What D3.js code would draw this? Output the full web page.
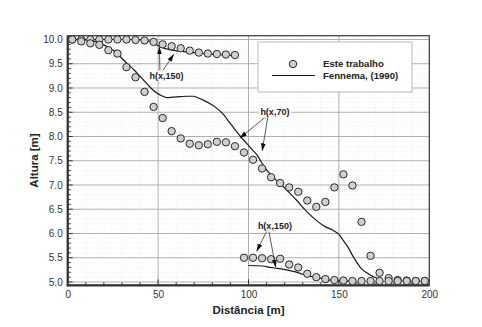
<!DOCTYPE html>
<html><head><meta charset="utf-8">
<script src="https://cdn.jsdelivr.net/npm/d3@7"></script>
<style>body{margin:0;background:#fff}svg{display:block}text{font-family:"Liberation Sans",Arial,sans-serif}</style>
</head><body><svg id="c" width="482" height="327"></svg>
<script>
// ---- data ----
const xTicks = [0, 50, 100, 150, 200];
const yTicks = [5.0, 5.5, 6.0, 6.5, 7.0, 7.5, 8.0, 8.5, 9.0, 9.5, 10.0];
const yTickLabels = ["5.0","5.5","6.0","6.5","7.0","7.5","8.0","8.5","9.0","9.5","10.0"];
// Este trabalho: h(x,150) upper branch
const topX = [2.5,7.5,12.5,17.5,22.5,27.5,32.5,37.5,42.5,47.5,52.5,57.5,62.5,67.5,72.5,77.5,82.5,87.5,92.5];
const topH = [10.00,10.00,10.00,10.00,10.00,10.00,10.00,9.99,9.98,9.95,9.90,9.86,9.82,9.77,9.73,9.71,9.70,9.69,9.68];
// Este trabalho: h(x,70)
const midX = [2.5,7.5,12.5,17.5,22.5,27.5,32.5,37.5,42.5,47.5,52.5,57.5,62.5,67.5,72.5,77.5,82.5,87.5,92.5,97.5,
              102.5,107.5,112.5,117.5,122.5,127.5,132.5,137.5,142.5,147.5,152.5,157.5,162.5,167.5,172.5,177.5,182.5,187.5,192.5,197.5];
const midH = [10.00,9.96,9.92,9.89,9.78,9.71,9.43,9.22,8.92,8.61,8.38,8.11,7.96,7.85,7.82,7.84,7.89,7.88,7.80,7.67,
              7.52,7.34,7.16,7.04,6.95,6.86,6.68,6.55,6.65,6.95,7.22,6.99,6.24,5.54,5.19,5.08,5.04,5.03,5.02,5.02];
// Este trabalho: h(x,150) lower branch
const lowX = [97.5,102.5,107.5,112.5,117.5,122.5,127.5,132.5,137.5,142.5,147.5,152.5,157.5,162.5,167.5,172.5,177.5,182.5,187.5,192.5,197.5];
const lowH = [5.50,5.50,5.49,5.47,5.48,5.36,5.30,5.17,5.10,5.06,5.04,5.03,5.02,5.02,5.02,5.02,5.02,5.02,5.02,5.02,5.02];
// Fennema (1990)
const fenTopX = [0,20,35,42,46,50,54,58,64,73,82,92.5];
const fenTopH = [10.0,10.0,10.0,9.99,9.95,9.87,9.81,9.78,9.75,9.72,9.69,9.67];
const fenMidX = [0,10,15,18,22,25,29,33,37,40,43,46,49,52,55,58,62,66,69.5,72,75,79,82.5,86,89.5,93,96,99,102,104.5,107,110,113,115.5,121,126.5,132,137.5,142,146.5,150.5,152.5,154.5,157.5,160,162,165,168,171,174];
const fenMidH = [10.0,9.99,9.96,9.92,9.85,9.78,9.65,9.50,9.36,9.24,9.12,9.00,8.90,8.84,8.80,8.81,8.82,8.83,8.83,8.80,8.75,8.67,8.58,8.46,8.29,8.12,7.98,7.86,7.73,7.63,7.48,7.31,7.19,7.10,6.90,6.69,6.46,6.27,6.15,6.07,5.96,5.85,5.75,5.55,5.40,5.29,5.20,5.13,5.08,5.05];
const fenLowX = [100,108,112,116,121,126,130,135,139.5,145,150,158];
const fenLowH = [5.34,5.33,5.30,5.28,5.25,5.21,5.16,5.11,5.08,5.04,5.03,5.02];
// annotations: label position and arrow tips (data units)
const annoText = ["h(x,150)", "h(x,70)", "h(x,150)"];
const annoPos = [[54.7, 9.24], [114.6, 8.50], [114.6, 6.16]];
const annoArrows = [
  [[[51.0, 9.36], [50.7, 9.84]], [[52.8, 9.37], [58.6, 9.69]]],
  [[[110.0, 8.42], [95.3, 7.97]], [[110.7, 8.40], [107.6, 7.71]]],
  [[[110.0, 6.04], [104.6, 5.64]], [[111.3, 6.04], [115.0, 5.31]]]
];
const legendLabels = ["Este trabalho", "Fennema, (1990)"];

// ---- chart ----
const svg = d3.select("#c");
const x = d3.scaleLinear().domain([0, 200]).range([67.7, 429.3]);
const y = d3.scaleLinear().domain([4.932, 10.078]).range([285.3, 35.7]);
const X0 = x(0), X1 = x(200), Y0 = y(4.932), Y1 = y(10.078);

svg.append("rect").attr("width",482).attr("height",327).attr("fill","#fff");

// minor grid
const gMin = svg.append("g").attr("stroke","#dedede").attr("stroke-width",0.6).attr("stroke-dasharray","1,2");
d3.range(10, 200, 10).filter(v => v % 50 !== 0).forEach(v => {
  gMin.append("line").attr("x1",x(v)).attr("x2",x(v)).attr("y1",Y0).attr("y2",Y1);
});
d3.range(50, 101, 1).map(v => v / 10).filter(v => Math.abs(v*2 - Math.round(v*2)) > 0.01).forEach(v => {
  gMin.append("line").attr("x1",X0).attr("x2",X1).attr("y1",y(v)).attr("y2",y(v));
});
// major grid
const gMaj = svg.append("g").attr("stroke","#b0b0b0").attr("stroke-width",1);
xTicks.slice(1,-1).forEach(v => gMaj.append("line").attr("x1",x(v)).attr("x2",x(v)).attr("y1",Y0).attr("y2",Y1));
yTicks.forEach(v => gMaj.append("line").attr("x1",X0).attr("x2",X1).attr("y1",y(v)).attr("y2",y(v)));

// axes
const xAxis = d3.axisBottom(x).tickValues(xTicks).tickSize(0).tickPadding(6);
const gx = svg.append("g").attr("transform",`translate(0,${Y0})`).call(xAxis);
gx.select(".domain").remove();
gx.selectAll("text").attr("font-size",10).attr("fill","#333");
const yAxis = d3.axisLeft(y).tickValues(yTicks).tickFormat((d,i) => yTickLabels[i]).tickSize(0).tickPadding(5);
const gy = svg.append("g").attr("transform",`translate(${X0},0)`).call(yAxis);
gy.select(".domain").remove();
gy.selectAll("text").attr("font-size",10).attr("fill","#333");

// inward ticks
const gT = svg.append("g").attr("stroke","#333").attr("stroke-width",1);
d3.range(0, 201, 10).forEach(v => {
  const L = v % 50 === 0 ? 6 : 3;
  gT.append("line").attr("x1",x(v)).attr("x2",x(v)).attr("y1",Y0).attr("y2",Y0-L);
});
d3.range(50, 101, 1).map(v => v/10).forEach(v => {
  const L = Math.abs(v*2 - Math.round(v*2)) < 0.01 ? 5 : 3;
  gT.append("line").attr("x1",X0).attr("x2",X0+L).attr("y1",y(v)).attr("y2",y(v));
});

// frame
svg.append("rect").attr("x",X0).attr("y",Y1).attr("width",X1-X0).attr("height",Y0-Y1)
  .attr("fill","none").attr("stroke","#444").attr("stroke-width",1.3);
svg.append("line").attr("x1",X0).attr("x2",X0).attr("y1",Y1).attr("y2",Y0+1).attr("stroke","#333").attr("stroke-width",2.2);
svg.append("line").attr("x1",X0-1).attr("x2",X1).attr("y1",Y0).attr("y2",Y0).attr("stroke","#333").attr("stroke-width",2.2);

// axis titles
svg.append("text").attr("x",(X0+X1)/2).attr("y",314).attr("text-anchor","middle")
  .attr("font-size",11.5).attr("font-weight","bold").attr("fill","#222").text("Distância [m]");
svg.append("text").attr("transform",`translate(38,${(Y0+Y1)/2}) rotate(-90)`).attr("text-anchor","middle")
  .attr("font-size",11.5).attr("font-weight","bold").attr("fill","#222").text("Altura [m]");

// Fennema lines
const line = d3.line().x(d => x(d[0])).y(d => y(d[1])).curve(d3.curveMonotoneX);
const gL = svg.append("g").attr("fill","none").attr("stroke","#1a1a1a").attr("stroke-width",1.2);
[[fenTopX,fenTopH],[fenMidX,fenMidH],[fenLowX,fenLowH]].forEach(([xs,hs]) => {
  gL.append("path").attr("d", line(xs.map((v,i) => [v, hs[i]])));
});

// points
const gP = svg.append("g").attr("fill","#cfcfcf").attr("stroke","#2a2a2a").attr("stroke-width",1);
[[topX,topH],[midX,midH],[lowX,lowH]].forEach(([xs,hs]) => {
  gP.selectAll(null).data(xs.map((v,i) => [v, hs[i]])).enter().append("circle")
    .attr("cx", d => x(d[0])).attr("cy", d => y(d[1])).attr("r", 3.7);
});

// annotations
const defs = svg.append("defs");
defs.append("marker").attr("id","ah").attr("viewBox","0 0 10 10").attr("refX",9).attr("refY",5)
  .attr("markerUnits","userSpaceOnUse").attr("markerWidth",8).attr("markerHeight",8).attr("orient","auto")
  .append("path").attr("d","M0,2L10,5L0,8Z").attr("fill","#111");
annoText.forEach((t, i) => {
  const g = svg.append("g");
  annoArrows[i].forEach(a => {
    g.append("line").attr("x1",x(a[0][0])).attr("y1",y(a[0][1])).attr("x2",x(a[1][0])).attr("y2",y(a[1][1]))
      .attr("stroke","#333").attr("stroke-width",0.8).attr("marker-end","url(#ah)");
  });
  const tx = g.append("text").attr("x",x(annoPos[i][0])).attr("y",y(annoPos[i][1])).attr("dy","0.35em")
    .attr("text-anchor","middle").attr("font-size",9).attr("font-weight","bold").attr("fill","#222").text(t);
  const bb = tx.node().getBBox();
  g.insert("rect","text").attr("x",bb.x-1.5).attr("y",bb.y).attr("width",bb.width+3).attr("height",bb.height).attr("fill","#fff");
});

// legend
const lg = svg.append("g");
lg.append("rect").attr("x",258).attr("y",42).attr("width",154).attr("height",50)
  .attr("fill","#fff").attr("stroke","#bbb").attr("stroke-width",1);
lg.append("circle").attr("cx",293).attr("cy",64).attr("r",3.7).attr("fill","#cfcfcf").attr("stroke","#2a2a2a");
lg.append("line").attr("x1",272).attr("x2",315).attr("y1",75.5).attr("y2",75.5).attr("stroke","#1a1a1a").attr("stroke-width",1.2);
legendLabels.forEach((t,i) => {
  lg.append("text").attr("x",323).attr("y",64 + i*12).attr("dy","0.35em").attr("font-size",9.6)
    .attr("font-weight","bold").attr("fill","#222").text(t);
});
</script></body></html>
